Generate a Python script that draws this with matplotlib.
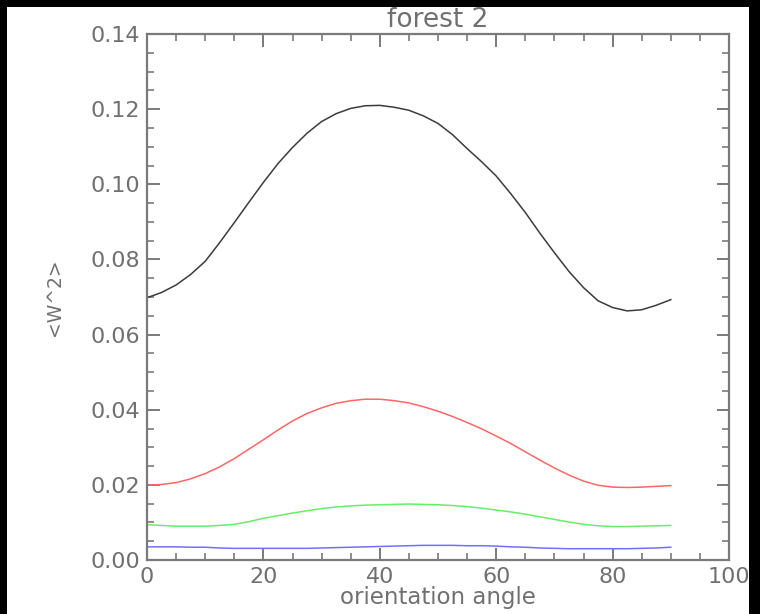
import matplotlib
matplotlib.use('Agg')
import matplotlib.pyplot as plt
from matplotlib.patches import Rectangle
from matplotlib.ticker import MultipleLocator, FormatStrFormatter

# orientation angle (degrees), every 2.5
ANGLE = [0, 2.5, 5, 7.5, 10, 12.5, 15, 17.5, 20, 22.5, 25, 27.5, 30, 32.5, 35, 37.5, 40, 42.5,
         45, 47.5, 50, 52.5, 55, 57.5, 60, 62.5, 65, 67.5, 70, 72.5, 75, 77.5, 80, 82.5, 85,
         87.5, 90]

# <W^2> for each curve
W2_BLACK = [0.0698, 0.0712, 0.0732, 0.0760, 0.0795, 0.0845, 0.0898, 0.0952, 0.1005, 0.1055,
            0.1098, 0.1136, 0.1167, 0.1188, 0.1202, 0.1209, 0.1210, 0.1205, 0.1197, 0.1182,
            0.1162, 0.1132, 0.1095, 0.1060, 0.1022, 0.0975, 0.0925, 0.0870, 0.0818, 0.0768,
            0.0725, 0.0690, 0.0672, 0.0663, 0.0666, 0.0678, 0.0693]
W2_RED = [0.0199, 0.0201, 0.0206, 0.0216, 0.0230, 0.0248, 0.0270, 0.0295, 0.0320, 0.0346,
          0.0370, 0.0390, 0.0405, 0.0417, 0.0424, 0.0428, 0.0428, 0.0424, 0.0418, 0.0408,
          0.0396, 0.0382, 0.0366, 0.0349, 0.0330, 0.0310, 0.0288, 0.0266, 0.0245, 0.0226,
          0.0210, 0.0199, 0.0194, 0.0193, 0.0194, 0.0196, 0.0198]
W2_GREEN = [0.0094, 0.0092, 0.0090, 0.0090, 0.0090, 0.0092, 0.0095, 0.0102, 0.0111, 0.0118,
            0.0125, 0.0131, 0.0137, 0.0141, 0.0144, 0.0146, 0.0147, 0.0148, 0.0149, 0.0148,
            0.0147, 0.0145, 0.0142, 0.0138, 0.0133, 0.0128, 0.0122, 0.0115, 0.0108, 0.0101,
            0.0095, 0.0091, 0.0089, 0.0089, 0.0090, 0.0091, 0.0092]
W2_BLUE = [0.0035, 0.0035, 0.0035, 0.0034, 0.0034, 0.0032, 0.0031, 0.0031, 0.0031, 0.0031,
           0.0031, 0.0031, 0.0032, 0.0033, 0.0034, 0.0035, 0.0036, 0.0037, 0.0038, 0.0039,
           0.0039, 0.0039, 0.0038, 0.0038, 0.0037, 0.0035, 0.0034, 0.0032, 0.0031, 0.0030,
           0.0030, 0.0030, 0.0030, 0.0030, 0.0031, 0.0032, 0.0034]

CURVES = [(W2_BLACK, '#3c3c3c'), (W2_RED, '#ff6666'), (W2_GREEN, '#66ee66'), (W2_BLUE, '#7070ff')]

GREY = '#707070'
AXIS_GREY = '#7a7a7a'

fig = plt.figure(figsize=(7.6, 6.14), dpi=100, facecolor='white')
ax = fig.add_axes([147 / 760, 54 / 614, 582 / 760, 526 / 614])

for values, color in CURVES:
    ax.plot(ANGLE, values, color=color, linewidth=1.1)

ax.set_xlim(0, 100)
ax.set_ylim(0, 0.14)
ax.xaxis.set_major_locator(MultipleLocator(20))
ax.xaxis.set_minor_locator(MultipleLocator(5))
ax.yaxis.set_major_locator(MultipleLocator(0.02))
ax.yaxis.set_minor_locator(MultipleLocator(0.005))
ax.yaxis.set_major_formatter(FormatStrFormatter('%.2f'))

for spine in ax.spines.values():
    spine.set_color(AXIS_GREY)
    spine.set_linewidth(1.6)

ax.tick_params(which='both', direction='in', top=True, right=True,
               color=AXIS_GREY, labelcolor=GREY, labelsize=16)
ax.tick_params(which='major', length=9, width=1.4, pad=5)
ax.tick_params(which='minor', length=5, width=1.2)

ax.set_xlabel('orientation angle', fontsize=16.5, color=GREY)
ax.xaxis.label.set_va('baseline')
ax.xaxis.set_label_coords(0.5, -0.083)
ax.set_ylabel('<W^2>', fontsize=13.5, color=GREY)
ax.yaxis.set_label_coords(-0.143, 0.5)
ax.text(0.5, 1.013, 'forest 2', transform=ax.transAxes, ha='center', va='baseline',
        fontsize=19, color=GREY)

# black border around the picture
fig.add_artist(Rectangle((0, 0), 7 / 760, 1, transform=fig.transFigure,
                         facecolor='black', edgecolor='none', zorder=10))
fig.add_artist(Rectangle((0, 1 - 7 / 614), 1, 7 / 614, transform=fig.transFigure,
                         facecolor='black', edgecolor='none', zorder=10))
fig.add_artist(Rectangle((749 / 760, 0), 11 / 760, 1, transform=fig.transFigure,
                         facecolor='black', edgecolor='none', zorder=10))

fig.savefig('out.png', dpi=100, facecolor='white')
